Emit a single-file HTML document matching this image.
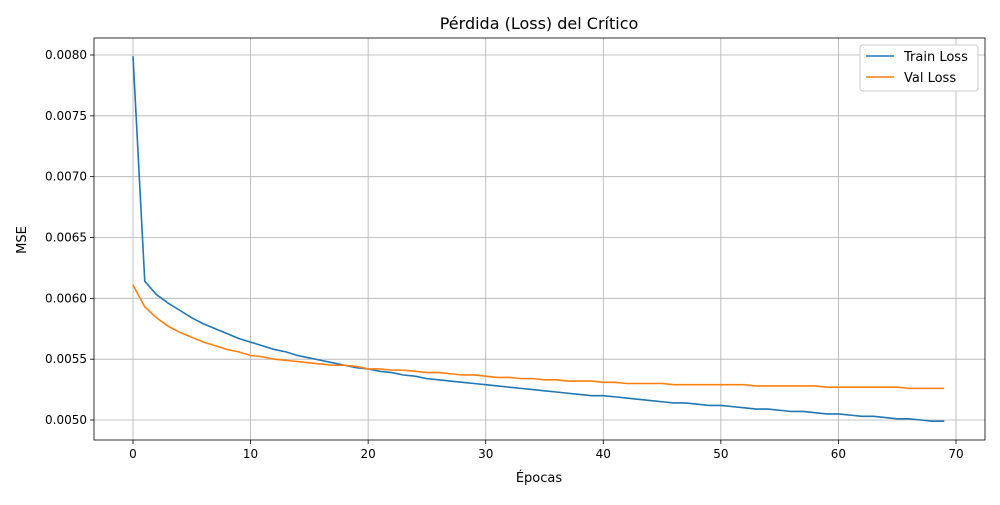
<!DOCTYPE html>
<html><head><meta charset="utf-8"><style>
body{margin:0;background:#fff;font-family:"Liberation Sans","DejaVu Sans",sans-serif}
svg text{font-family:"DejaVu Sans","Liberation Sans",sans-serif}
</style></head><body>
<svg id="chart" width="1000" height="500" xmlns="http://www.w3.org/2000/svg"></svg>
<script>
const epochs=[];for(let i=0;i<70;i++)epochs.push(i);
const trainLoss=[.00799,.00614,.00603,.00596,.00590,.00584,.00579,.00575,.00571,.00567,.00564,.00561,.00558,.00556,.00553,.00551,.00549,.00547,.00545,.00543,.00542,.00540,.00539,.00537,.00536,.00534,.00533,.00532,.00531,.00530,.00529,.00528,.00527,.00526,.00525,.00524,.00523,.00522,.00521,.00520,.00520,.00519,.00518,.00517,.00516,.00515,.00514,.00514,.00513,.00512,.00512,.00511,.00510,.00509,.00509,.00508,.00507,.00507,.00506,.00505,.00505,.00504,.00503,.00503,.00502,.00501,.00501,.00500,.00499,.00499];
const valLoss=[.00611,.00593,.00584,.00577,.00572,.00568,.00564,.00561,.00558,.00556,.00553,.00552,.00550,.00549,.00548,.00547,.00546,.00545,.00545,.00544,.00542,.00542,.00541,.00541,.00540,.00539,.00539,.00538,.00537,.00537,.00536,.00535,.00535,.00534,.00534,.00533,.00533,.00532,.00532,.00532,.00531,.00531,.00530,.00530,.00530,.00530,.00529,.00529,.00529,.00529,.00529,.00529,.00529,.00528,.00528,.00528,.00528,.00528,.00528,.00527,.00527,.00527,.00527,.00527,.00527,.00527,.00526,.00526,.00526,.00526];
const xTicks=[0,10,20,30,40,50,60,70];
const yTicks=[0.0050,0.0055,0.0060,0.0065,0.0070,0.0075,0.0080];
const L=94,R=985,T=38,B=440;
const xs=v=>133+v*(956-133)/70;
const ys=v=>420-(v-0.005)*(420-55)/0.003;
const svg=document.getElementById('chart');const NS='http://www.w3.org/2000/svg';
function mk(t,a,p){const e=document.createElementNS(NS,t);for(const k in a)e.setAttribute(k,a[k]);(p||svg).appendChild(e);return e;}
const grid=mk('g',{});


xTicks.forEach(t=>{const x=xs(t);
mk('line',{x1:x,x2:x,y1:T,y2:B,stroke:'#b0b0b0','stroke-width':0.8},grid);
mk('line',{x1:x,x2:x,y1:B,y2:B+4,stroke:'#000','stroke-width':0.8});
const tx=mk('text',{x:x,y:B+18,'text-anchor':'middle','font-size':12});tx.textContent=t;

});
yTicks.forEach(t=>{const y=ys(t);
mk('line',{x1:L,x2:R,y1:y,y2:y,stroke:'#b0b0b0','stroke-width':0.8},grid);
mk('line',{x1:L-4,x2:L,y1:y,y2:y,stroke:'#000','stroke-width':0.8});
const tx=mk('text',{x:L-7,y:y+4,'text-anchor':'end','font-size':12});tx.textContent=t.toFixed(4);

});
function line(data,color,name){const p=mk('polyline',{points:data.map((v,i)=>xs(epochs[i])+','+ys(v)).join(' '),fill:'none',stroke:color,'stroke-width':1.6});

}
line(trainLoss,'#1f77b4','train-loss-line');
line(valLoss,'#ff7f0e','val-loss-line');
mk('rect',{x:L,y:T,width:R-L,height:B-T,fill:'none',stroke:'#000','stroke-width':0.8});
let t=mk('text',{x:539,y:29,'text-anchor':'middle','font-size':16});t.textContent='Pérdida (Loss) del Crítico';


t=mk('text',{x:539,y:482,'text-anchor':'middle','font-size':13});t.textContent='Épocas';


t=mk('text',{x:26,y:240,'text-anchor':'middle','font-size':13,transform:'rotate(-90 26 240)'});t.textContent='MSE';


const lg=mk('g',{});


mk('rect',{x:860,y:45,width:118,height:46,rx:3,fill:'#fff',stroke:'#ccc'},lg);
[['Train Loss','#1f77b4',56],['Val Loss','#ff7f0e',77]].forEach(([n,c,y])=>{
mk('line',{x1:866,x2:894,y1:y,y2:y,stroke:c,'stroke-width':1.6},lg);
const e=mk('text',{x:904,y:y+5,'font-size':13},lg);e.textContent=n;

});
</script>
</body></html>
